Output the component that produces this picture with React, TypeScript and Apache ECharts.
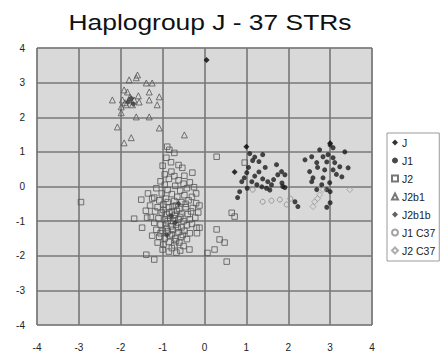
import React, { useEffect, useRef } from "react";
import * as echarts from "echarts";

const seriesNames = ["J", "J1", "J2", "J2b1", "J2b1b", "J1 C37", "J2 C37"];
const xTicks = [-4, -3, -2, -1, 0, 1, 2, 3, 4];
const yTicks = [-4, -3, -2, -1, 0, 1, 2, 3, 4];

const dataJ = [[0.05, 3.65], [1.0, 1.15], [0.72, 0.42], [3.0, 1.25]];

const dataJ1 = [
  [1.08, 0.95], [1.2, 0.85], [1.39, 0.92], [1.15, 0.75], [1.3, 0.72], [1.72, 0.63], [1.01, 0.4], [1.3, 0.42],
  [1.75, 0.34], [1.92, 0.34], [0.89, 0.14], [1.13, 0.14], [1.39, 0.22], [1.51, 0.14], [1.25, 0.05], [1.37, -0.01],
  [1.6, 0.05], [1.48, -0.05], [1.56, -0.1], [1.92, -0.03], [0.84, -0.15], [0.79, -0.32], [2.16, -0.44], [2.23, -0.58],
  [1.05, 0.55], [1.45, 0.55], [1.2, 0.3], [1.65, 0.2], [0.95, 0.25], [1.85, 0.1], [1.02, -0.05], [1.84, 0.43],
  [3.0, 1.2], [3.07, 1.12], [3.35, 1.0], [2.75, 1.06], [2.4, 0.77], [2.56, 0.86], [2.83, 0.86], [2.95, 0.92],
  [3.07, 0.83], [2.68, 0.69], [2.92, 0.71], [3.11, 0.69], [3.23, 0.57], [3.43, 0.54], [2.51, 0.43], [2.87, 0.48],
  [3.07, 0.48], [3.28, 0.28], [2.59, 0.25], [2.83, 0.25], [2.56, 0.14], [2.99, 0.11], [2.8, 0.05], [2.92, -0.09],
  [3.0, -0.15], [2.68, -0.09], [3.0, -0.47], [2.92, -0.6], [3.15, 0.35], [2.7, 0.55], [1.87, 0.0],
];

const dataJ2 = [
  [-0.89, 1.15], [-0.84, 1.06], [-0.91, 0.83], [-0.72, 0.97], [0.29, 0.86], [-0.79, 0.43], [-0.53, 0.54], [-0.29, 0.4],
  [-0.48, 0.31], [-2.95, -0.45], [0.65, -0.76], [0.72, -0.87], [0.29, -1.24], [0.36, -1.53], [0.48, -1.62], [0.24, -1.82],
  [0.07, -1.92], [0.53, -2.17], [-1.51, -0.38], [-1.2, -0.32], [-1.68, -0.93], [-1.37, -0.9], [-1.49, -1.19], [-1.39, -1.97],
  [-1.2, -2.11], [-0.67, -1.91], [-0.36, -1.82], [-0.19, -1.19], [-0.12, -1.19],
  [-1.05, 0.15], [-0.85, 0.22], [-0.62, 0.18], [-0.95, 0.05], [-0.7, 0.02], [-0.5, 0.08], [-0.35, 0.12], [-1.15, -0.05],
  [-0.88, -0.1], [-0.58, -0.12], [-0.42, -0.05], [-0.25, -0.02], [-1.02, -0.2], [-0.78, -0.22], [-0.65, -0.3], [-0.48, -0.25],
  [-0.3, -0.3], [-1.25, -0.35], [-1.08, -0.4], [-0.92, -0.35], [-0.72, -0.42], [-0.55, -0.45], [-0.38, -0.4], [-0.2, -0.48],
  [-1.3, -0.55], [-1.12, -0.6], [-0.98, -0.52], [-0.85, -0.6], [-0.68, -0.55], [-0.6, -0.65], [-0.45, -0.6], [-0.28, -0.62],
  [-1.18, -0.72], [-1.02, -0.75], [-0.9, -0.8], [-0.78, -0.72], [-0.7, -0.82], [-0.55, -0.78], [-0.4, -0.8], [-0.15, -0.75],
  [-1.28, -0.88], [-1.1, -0.92], [-0.95, -0.95], [-0.82, -0.9], [-0.75, -1.0], [-0.62, -0.95], [-0.5, -1.0], [-0.35, -0.95],
  [-0.22, -0.9], [-1.2, -1.05], [-1.05, -1.1], [-0.92, -1.08], [-0.8, -1.15], [-0.68, -1.1], [-0.55, -1.18], [-0.42, -1.12],
  [-0.3, -1.08], [-1.15, -1.25], [-1.0, -1.28], [-0.88, -1.3], [-0.76, -1.25], [-0.62, -1.32], [-0.48, -1.28], [-0.35, -1.35],
  [-1.25, -1.42], [-1.08, -1.45], [-0.95, -1.5], [-0.82, -1.42], [-0.7, -1.5], [-0.56, -1.46], [-0.42, -1.52], [-1.12, -1.62],
  [-0.98, -1.68], [-0.85, -1.6], [-0.72, -1.7], [-0.6, -1.62], [-0.5, -1.72], [-1.0, -1.82], [-0.85, -1.88], [-0.78, -1.78],
  [-0.58, -1.85], [-0.95, 0.35], [-0.72, 0.3], [-1.0, 0.6], [-0.8, 0.7], [-0.62, 0.62], [-0.88, -0.45], [-0.76, -0.58],
  [-0.66, -0.7], [-0.84, -0.75], [-0.58, -0.88], [-0.98, -0.68], [-0.72, -0.92], [-0.88, -1.0], [-0.64, -1.2], [-0.9, -1.2],
  [-0.52, -1.4], [-0.78, -1.38], [-1.05, -1.35], [-0.68, -1.58], [-0.45, -0.5], [-0.32, -0.72], [-0.18, -1.35], [-0.2, -0.2],
  [-1.35, -0.2], [-1.4, -0.7], [-0.12, -0.55], [0.96, 0.69],
];

const dataJ2b1 = [
  [-1.6, 3.22], [-1.63, 3.14], [-1.8, 3.08], [-1.39, 2.99], [-1.25, 2.99], [-1.92, 2.79], [-1.84, 2.73], [-1.32, 2.73],
  [-2.2, 2.5], [-1.96, 2.5], [-1.8, 2.5], [-1.68, 2.5], [-1.56, 2.44], [-1.32, 2.5], [-1.08, 2.59], [-1.13, 2.36],
  [-1.99, 2.3], [-1.87, 2.36], [-1.72, 2.36], [-1.99, 2.13], [-1.63, 2.01], [-1.32, 2.01], [-2.08, 1.72], [-1.08, 1.69],
  [-1.75, 1.41], [-1.92, 1.26], [-0.48, 1.49], [-1.9, 2.42], [-1.78, 2.58], [-1.58, 2.62],
];

const dataJ2b1b = [[-1.82, 2.45], [-1.7, 2.38], [-1.75, 2.55], [-0.8, -0.85], [-0.7, -1.05], [-0.62, -0.5], [-0.9, -1.4]];

const dataJ1C37 = [[1.39, -0.44], [1.6, -0.41], [1.8, -0.38], [1.96, -0.52], [1.15, -0.09], [2.05, -0.35]];

const dataJ2C37 = [[2.63, -0.44], [2.59, -0.58], [2.75, -0.24], [2.83, -0.09], [3.47, -0.09], [2.7, -0.35]];

export default function App() {
  const ref = useRef<HTMLDivElement>(null);
  useEffect(() => {
    document.body.style.margin = "0";
    const chart = echarts.init(ref.current!, null, { renderer: "svg" });
    const open = "rgba(0,0,0,0)";
    const mk = (name: string, data: number[][], symbol: string, size: number, color: string, border: string, bw: number) => ({
      name,
      type: "scatter",
      data,
      symbol,
      symbolSize: size,
      itemStyle: { color, borderColor: border, borderWidth: bw },
    });
    chart.setOption({
      animation: false,
      backgroundColor: "#ffffff",
      textStyle: { fontFamily: "Liberation Sans, Arial, sans-serif" },
      graphic: [
        {
          type: "text",
          x: 210,
          y: 22,
          scaleX: 1.2,
          style: {
            text: "Haplogroup J - 37 STRs",
            x: 0,
            y: 0,
            align: "center",
            verticalAlign: "middle",
            font: "22px Liberation Sans, Arial, sans-serif",
            fill: "#111111",
          },
        },
      ],
      grid: {
        left: 37,
        top: 48,
        width: 335,
        height: 277,
        show: true,
        backgroundColor: "#d9d9d9",
        borderColor: "#9a9a9a",
        borderWidth: 1,
      },
      xAxis: {
        type: "value",
        min: xTicks[0],
        max: xTicks[xTicks.length - 1],
        interval: 1,
        axisLine: { show: false },
        axisTick: { show: false },
        axisLabel: { margin: 17, fontSize: 10, color: "#222" },
        splitLine: { show: true, lineStyle: { color: "#777777", width: 1.6 } },
      },
      yAxis: {
        type: "value",
        min: yTicks[0],
        max: yTicks[yTicks.length - 1],
        interval: 1,
        axisLine: { show: false },
        axisTick: { show: false },
        axisLabel: { margin: 12, fontSize: 10, color: "#222" },
        splitLine: { show: true, lineStyle: { color: "#777777", width: 1.6 } },
      },
      legend: {
        data: seriesNames,
        orient: "vertical",
        left: 387,
        top: 133,
        padding: [4, 4, 5, 4],
        itemWidth: 6,
        itemHeight: 6,
        itemGap: 7,
        borderColor: "#9a9a9a",
        borderWidth: 1,
        textStyle: { fontSize: 10.5, color: "#222", padding: [0, 0, 0, -1] },
      },
      series: [
        mk(seriesNames[0], dataJ, "diamond", 6, "#000000", "#000000", 0),
        mk(seriesNames[1], dataJ1, "circle", 5, "#1c1c1c", "#1c1c1c", 0),
        mk(seriesNames[2], dataJ2, "rect", 5.5, open, "#555555", 1),
        mk(seriesNames[3], dataJ2b1, "triangle", 6, open, "#555555", 1),
        mk(seriesNames[4], dataJ2b1b, "diamond", 6, "#3a3a3a", "#3a3a3a", 0),
        mk(seriesNames[5], dataJ1C37, "circle", 5, open, "#8a8a8a", 1),
        mk(seriesNames[6], dataJ2C37, "diamond", 6, open, "#9a9a9a", 1),
      ],
    });
    return () => chart.dispose();
  }, []);
  return <div ref={ref} style={{ width: 440, height: 356 }} />;
}
